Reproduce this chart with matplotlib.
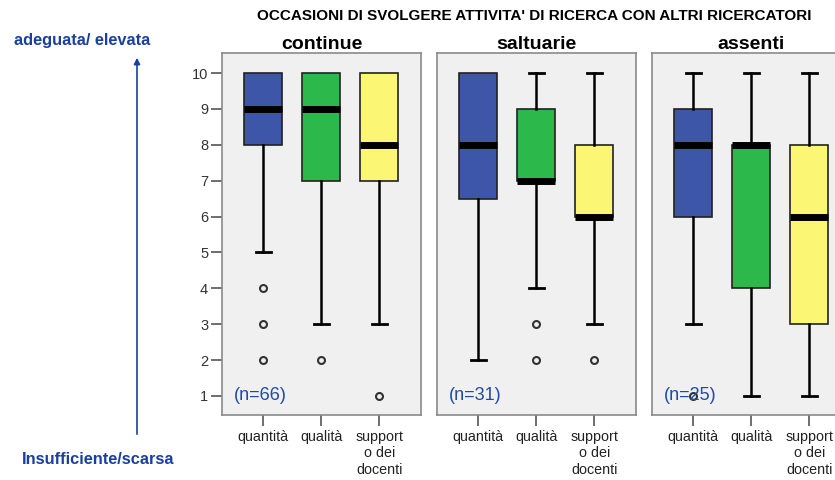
import matplotlib
matplotlib.use("Agg")
import matplotlib.pyplot as plt

plt.rcParams['font.family'] = ['Liberation Sans', 'DejaVu Sans']

# -----------------------------
# DATA
# -----------------------------
groups = ["continue", "saltuarie", "assenti"]
counts = ["(n=66)", "(n=31)", "(n=25)"]
items = ["quantità", "qualità", "support\no dei\ndocenti"]
colors = ["#3d56a8", "#2db84b", "#fbf775"]

# per group: [quantità, qualità, supporto]
q1 = [[8, 7, 7], [6.5, 7, 6], [6, 4, 3]]
med = [[9, 9, 8], [8, 7, 6], [8, 8, 6]]
q3 = [[10, 10, 10], [10, 9, 8], [9, 8, 8]]
whislo = [[5, 3, 3], [2, 4, 3], [3, 1, 1]]
whishi = [[10, 10, 10], [10, 10, 10], [10, 10, 10]]
fliers = [[[4, 3, 2], [2], [1]],
          [[], [3, 2], [2]],
          [[1], [], []]]

yticks = list(range(1, 11))

# -----------------------------
# FIGURE
# -----------------------------
fig = plt.figure(figsize=(8.35, 4.8), dpi=100)

lefts = [222, 437, 652]
pw = 199
bottom = 1 - 415 / 480
height = (415 - 53) / 480

for g in range(3):
    ax = fig.add_axes([lefts[g] / 835, bottom, pw / 835, height])
    ax.set_facecolor("#f0f0f0")
    stats = []
    for i in range(3):
        stats.append(dict(med=med[g][i], q1=q1[g][i], q3=q3[g][i],
                          whislo=whislo[g][i], whishi=whishi[g][i],
                          fliers=fliers[g][i]))
    bp = ax.bxp(stats, positions=[1, 2, 3], widths=0.655, patch_artist=True,
                showfliers=True,
                boxprops=dict(edgecolor="#222222", linewidth=1.2),
                medianprops=dict(color="black", linewidth=5, solid_capstyle="butt"),
                whiskerprops=dict(color="black", linewidth=1.8),
                capprops=dict(color="black", linewidth=2),
                capwidths=0.26,
                flierprops=dict(marker="o", markersize=5, markerfacecolor="none",
                                markeredgecolor="#333333", markeredgewidth=1.5))
    for patch, c in zip(bp["boxes"], colors):
        patch.set_facecolor(c)
    # hide caps that sit on the box edge (whisker of zero length)
    for i in range(3):
        if whislo[g][i] == q1[g][i]:
            bp["caps"][2 * i].set_visible(False)
        if whishi[g][i] == q3[g][i]:
            bp["caps"][2 * i + 1].set_visible(False)

    ax.set_xlim(0.29, 3.72)
    ax.set_ylim(0.47, 10.56)
    ax.set_xticks([1, 2, 3])
    ax.set_xticklabels(items, fontsize=10.3, color="#222222", linespacing=1.2)
    ax.tick_params(axis="x", length=8, width=1.2, color="#555555", pad=3)
    if g == 0:
        ax.set_yticks(yticks)
        ax.set_yticklabels([str(v) for v in yticks], fontsize=10.5, color="#333333")
        ax.tick_params(axis="y", length=8, width=1.2, color="#555555", pad=2)
    else:
        ax.set_yticks([])
    for s in ax.spines.values():
        s.set_color("#8a8a8a")
        s.set_linewidth(1.2)
    ax.set_title(groups[g], fontsize=14, fontweight="bold", pad=2)
    ax.text(0.06, 0.053, counts[g], transform=ax.transAxes, fontsize=13,
            color="#1f4aa8", ha="left", va="center")

fig.text(534 / 835, 1 - 16 / 480,
         "OCCASIONI DI SVOLGERE ATTIVITA' DI RICERCA CON ALTRI RICERCATORI",
         fontsize=11, fontweight="bold", ha="center", va="center")

fig.text(82 / 835, 1 - 40 / 480, "adeguata/ elevata", fontsize=11.8,
         fontweight="bold", color="#1a3fa0", ha="center", va="center")
fig.text(98 / 835, 1 - 460 / 480, "Insufficiente/scarsa", fontsize=11.8,
         fontweight="bold", color="#1a3fa0", ha="center", va="center")
fig.add_artist(matplotlib.patches.FancyArrowPatch(
    (137 / 835, 1 - 437 / 480), (137 / 835, 1 - 55 / 480),
    transform=fig.transFigure, arrowstyle="-|>", mutation_scale=9,
    color="#1a3fa0", linewidth=1.2))

plt.savefig("out.png", dpi=100)
